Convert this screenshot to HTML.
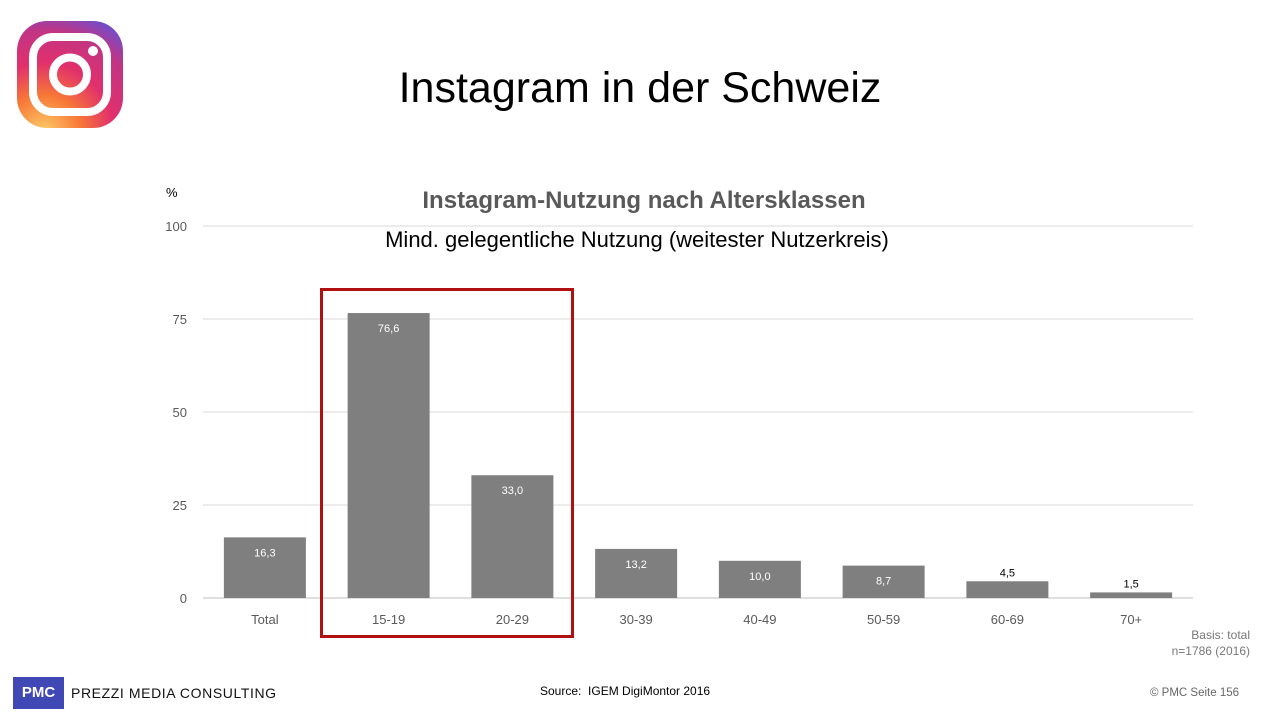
<!DOCTYPE html>
<html><head><meta charset="utf-8"><style>
body{margin:0;width:1280px;height:720px;background:#fff;font-family:"Liberation Sans",sans-serif;position:relative;overflow:hidden}
.abs{position:absolute}
</style></head><body>
<svg class="abs" style="left:17px;top:21px" width="106" height="107">
<defs><radialGradient id="ig" cx="0.25" cy="1.05" r="1.2"><stop offset="0" stop-color="#fdd06a"/><stop offset="0.3" stop-color="#f77737"/><stop offset="0.55" stop-color="#e1306c"/><stop offset="0.8" stop-color="#c13584"/><stop offset="1" stop-color="#6a4fd0"/></radialGradient></defs>
<rect x="0" y="0" width="106" height="107" rx="30" fill="url(#ig)"/>
<rect x="16" y="16" width="74" height="75" rx="20" fill="none" stroke="#fff" stroke-width="8"/>
<circle cx="53" cy="53.5" r="17" fill="none" stroke="#fff" stroke-width="8"/>
<circle cx="76" cy="30" r="5" fill="#fff"/>
</svg>
<div class="abs" style="left:0;width:1280px;top:64px;text-align:center;font-size:43px;color:#000">Instagram in der Schweiz</div>
<svg class="abs" style="left:0;top:0" width="1280" height="720" id="chart"></svg>
<div class="abs" style="left:13px;top:677px;width:51px;height:32px;background:#3f48b5;color:#fff;font-weight:bold;font-size:15px;line-height:32px;text-align:center">PMC</div>
<div class="abs" style="left:71px;top:685px;font-size:14px;letter-spacing:0.6px;color:#111">PREZZI MEDIA CONSULTING</div>
<div class="abs" style="left:540px;top:684px;font-size:12px;color:#000">Source:&nbsp; IGEM DigiMontor 2016</div>
<div class="abs" style="left:1150px;top:687px;font-size:11.5px;color:#666">© PMC Seite 156</div>
<div class="abs" style="right:30px;top:627px;font-size:12px;color:#777;text-align:right;line-height:16px">Basis: total<br>n=1786 (2016)</div>
<script>
const categories=["Total","15-19","20-29","30-39","40-49","50-59","60-69","70+"];
const values=[16.3,76.6,33.0,13.2,10.0,8.7,4.5,1.5];
const yTicks=[0,25,50,75,100];
const svg=document.getElementById('chart');
const NS='http://www.w3.org/2000/svg';
const x0=203,x1=1193,y0=598,y1=226;
const band=(x1-x0)/categories.length;
const y=v=>y0-(v/100)*(y0-y1);
const xc=i=>x0+band*(i+0.5);
function mk(t,a,txt){const e=document.createElementNS(NS,t);for(const k in a)e.setAttribute(k,a[k]);if(txt!==undefined)e.textContent=txt;svg.appendChild(e);return e;}
yTicks.forEach(t=>{
 const l=mk('line',{x1:x0,x2:x1,y1:y(t),y2:y(t),stroke:t===0?'#bfbfbf':'#d9d9d9','stroke-width':1});
 
 
 const tx=mk('text',{x:187,y:y(t)+5,'text-anchor':'end','font-size':13,fill:'#595959','font-family':'Liberation Sans'},t);
 
 
});
const u=mk('text',{x:166,y:197,'font-size':13,fill:'#000','font-family':'Liberation Sans'},'%');


const t1=mk('text',{x:644,y:208,'text-anchor':'middle','font-size':24,'font-weight':'bold',fill:'#595959','font-family':'Liberation Sans'},'Instagram-Nutzung nach Altersklassen');


const t2=mk('text',{x:637,y:247,'text-anchor':'middle','font-size':22,fill:'#000','font-family':'Liberation Sans'},'Mind. gelegentliche Nutzung (weitester Nutzerkreis)');


values.forEach((v,i)=>{
 const bw=82;
 const r=mk('rect',{x:xc(i)-bw/2,y:y(v),width:bw,height:y0-y(v),fill:'#7f7f7f'});
 
 
 const inside=(y0-y(v))>25;
 const lb=mk('text',{x:xc(i),y:inside?y(v)+19:y(v)-5,'text-anchor':'middle','font-size':11,fill:inside?'#fff':'#000','font-family':'Liberation Sans'},v.toFixed(1).replace('.',','));
 
 
 const cl=mk('text',{x:xc(i),y:624,'text-anchor':'middle','font-size':13,fill:'#595959','font-family':'Liberation Sans'},categories[i]);
 
 
});
const hl=mk('rect',{x:321.5,y:289.5,width:251,height:347,fill:'none',stroke:'#b01010','stroke-width':3});


</script>
</body></html>
